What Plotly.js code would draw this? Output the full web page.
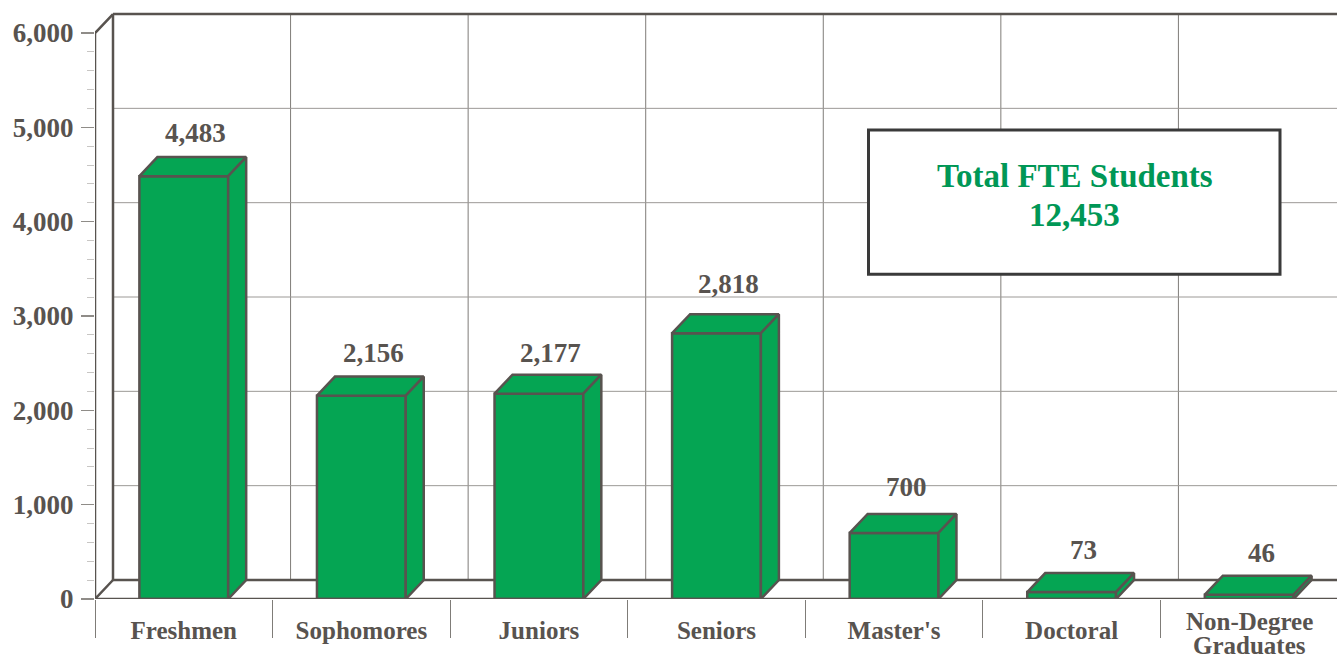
<!DOCTYPE html>
<html>
<head>
<meta charset="utf-8">
<script src="https://cdn.plot.ly/plotly-3.0.1.min.js"></script>
<style>html,body{margin:0;padding:0;background:#fff;overflow:hidden}#chart{width:1337px;height:659px}</style>
</head>
<body>
<div id="chart"></div>
<script>
const categories = ["Freshmen","Sophomores","Juniors","Seniors","Master's","Doctoral","Non-Degree<br>Graduates"];
const shownValues = [4483,2156,2177,2818,700,73,46];
const labelNudge = [1,1,-1,7,4,0,0];
const totalLabel = "Total FTE Students";
const totalValue = "12,453";
const yTicks = [0,1000,2000,3000,4000,5000,6000];

const W=1337,H=659,L=95,B=60.3,T=3;
const unitPx=177.57, valPx=94.28/1000;
const DX=18/unitPx, DY=19/valPx;
const xMax=(W-L)/unitPx, yMax=(H-B-T)/valPx;
const barW=0.5;
const INK='#58534f', GREEN='#05a553', GRID='#7f7c78', SERIF='"Liberation Serif", serif';
const fmt=v=>v.toLocaleString('en-US');
const centers=categories.map((c,i)=>i+0.5);
const minorVals=[];
for(let v=200;v<6000;v+=200){ if(v%1000) minorVals.push(v); }
const pxX=p=>(p-L)/(W-L), pxY=p=>(H-B-p)/(H-B-T);

const wallLine=(x0,y0,x1,y1,color,width)=>({type:'line',xref:'x',yref:'y',layer:'below',x0,y0,x1,y1,line:{color,width}});
const shapes=[];
for(let k=1;k<=6;k++) shapes.push(wallLine(k+DX,DY,k+DX,6000+DY,GRID,1));
for(let v=1000;v<=5000;v+=1000) shapes.push(wallLine(DX,v+DY,xMax,v+DY,'#9c9996',1));
shapes.push(wallLine(DX,DY,xMax,DY,INK,2.5));
shapes.push(wallLine(DX,6000+DY,xMax,6000+DY,INK,2.5));
shapes.push(wallLine(DX,DY,DX,6000+DY,INK,2.5));
shapes.push({type:'rect',xref:'paper',yref:'paper',layer:'above',
  x0:pxX(868.5),x1:pxX(1280),y0:pxY(274),y1:pxY(130),
  fillcolor:'#fff',line:{color:'#3a3a3a',width:3}});

function faces(build){
  const xs=[],ys=[];
  shownValues.forEach((v,i)=>{const p=build(centers[i]-barW/2,centers[i]+barW/2,v);
    p.forEach(q=>{xs.push(q[0]);ys.push(q[1]);});xs.push(null);ys.push(null);});
  return {x:xs,y:ys};
}
const poly=(d)=>Object.assign({type:'scatter',mode:'lines',fill:'toself',fillcolor:GREEN,
  line:{color:INK,width:2.5,shape:'linear'},hoverinfo:'skip',showlegend:false,cliponaxis:false},d);

const traces=[
 {type:'bar',x:centers,y:shownValues,width:barW,marker:{color:GREEN,line:{color:INK,width:2.5}},hoverinfo:'x+y',showlegend:false},
 poly(faces((a,b,v)=>[[a,v],[b,v],[b+DX,v+DY],[a+DX,v+DY],[a,v]])),
 poly(faces((a,b,v)=>[[b,0],[b,v],[b+DX,v+DY],[b+DX,DY],[b,0]])),
 {type:'scatter',mode:'lines',x:[DX,0,0,DX,null,xMax,0],y:[6000+DY,6000,0,DY,null,0,0],
  line:{color:INK,width:2.5},hoverinfo:'skip',showlegend:false,cliponaxis:false}
];

const dataLabels=shownValues.map((v,i)=>({xref:'x',yref:'y',x:centers[i]+12/unitPx,y:v+DY,text:fmt(v),showarrow:false,
  xanchor:'center',yanchor:'middle',yshift:23+labelNudge[i],font:{family:SERIF,size:27,color:INK,weight:700}}));
const lastLines=categories[6].split('<br>').map((t,i)=>({xref:'x',yref:'paper',x:centers[6],y:pxY(621+24*i),
  xanchor:'center',yanchor:'middle',showarrow:false,text:t,font:{family:SERIF,size:25,color:INK,weight:700}}));
const totalNotes=[totalLabel,totalValue].map((t,i)=>({xref:'paper',yref:'paper',x:pxX(1074.5),y:pxY(176+38.5*i),
  xanchor:'center',yanchor:'middle',showarrow:false,text:t,font:{family:SERIF,size:33,color:'#009756',weight:700}}));

const layout={
  width:W,height:H,margin:{l:L,r:0,t:T,b:B,pad:0},paper_bgcolor:'#fff',plot_bgcolor:'#fff',showlegend:false,bargap:0,
  font:{family:SERIF,color:INK},
  xaxis:{range:[0,xMax],showgrid:false,zeroline:false,showline:false,tickmode:'array',tickvals:centers.slice(0,6),
    ticktext:categories.slice(0,6),ticks:'outside',ticklen:0,tickwidth:0,ticklabelstandoff:9,tickangle:0,
    tickfont:{family:SERIF,size:25,color:INK,weight:700},
    minor:{tickmode:'linear',tick0:0,dtick:1,ticks:'outside',ticklen:38,tickwidth:1,tickcolor:GRID,showgrid:false}},
  yaxis:{range:[0,yMax],showgrid:false,zeroline:false,showline:false,tickmode:'array',tickvals:yTicks,
    ticktext:yTicks.map(fmt),ticks:'outside',ticklen:13,tickwidth:1.5,tickcolor:'#8f8c88',ticklabelstandoff:2,
    tickfont:{family:SERIF,size:27,color:INK,weight:700},
    minor:{tickmode:'array',tickvals:minorVals,ticks:'outside',ticklen:7,tickwidth:1,tickcolor:'#c8c6c4',showgrid:false}},
  shapes:shapes,
  annotations:dataLabels.concat(lastLines,totalNotes)
};
Plotly.newPlot('chart',traces,layout,{staticPlot:true,displayModeBar:false});
</script>
</body>
</html>
